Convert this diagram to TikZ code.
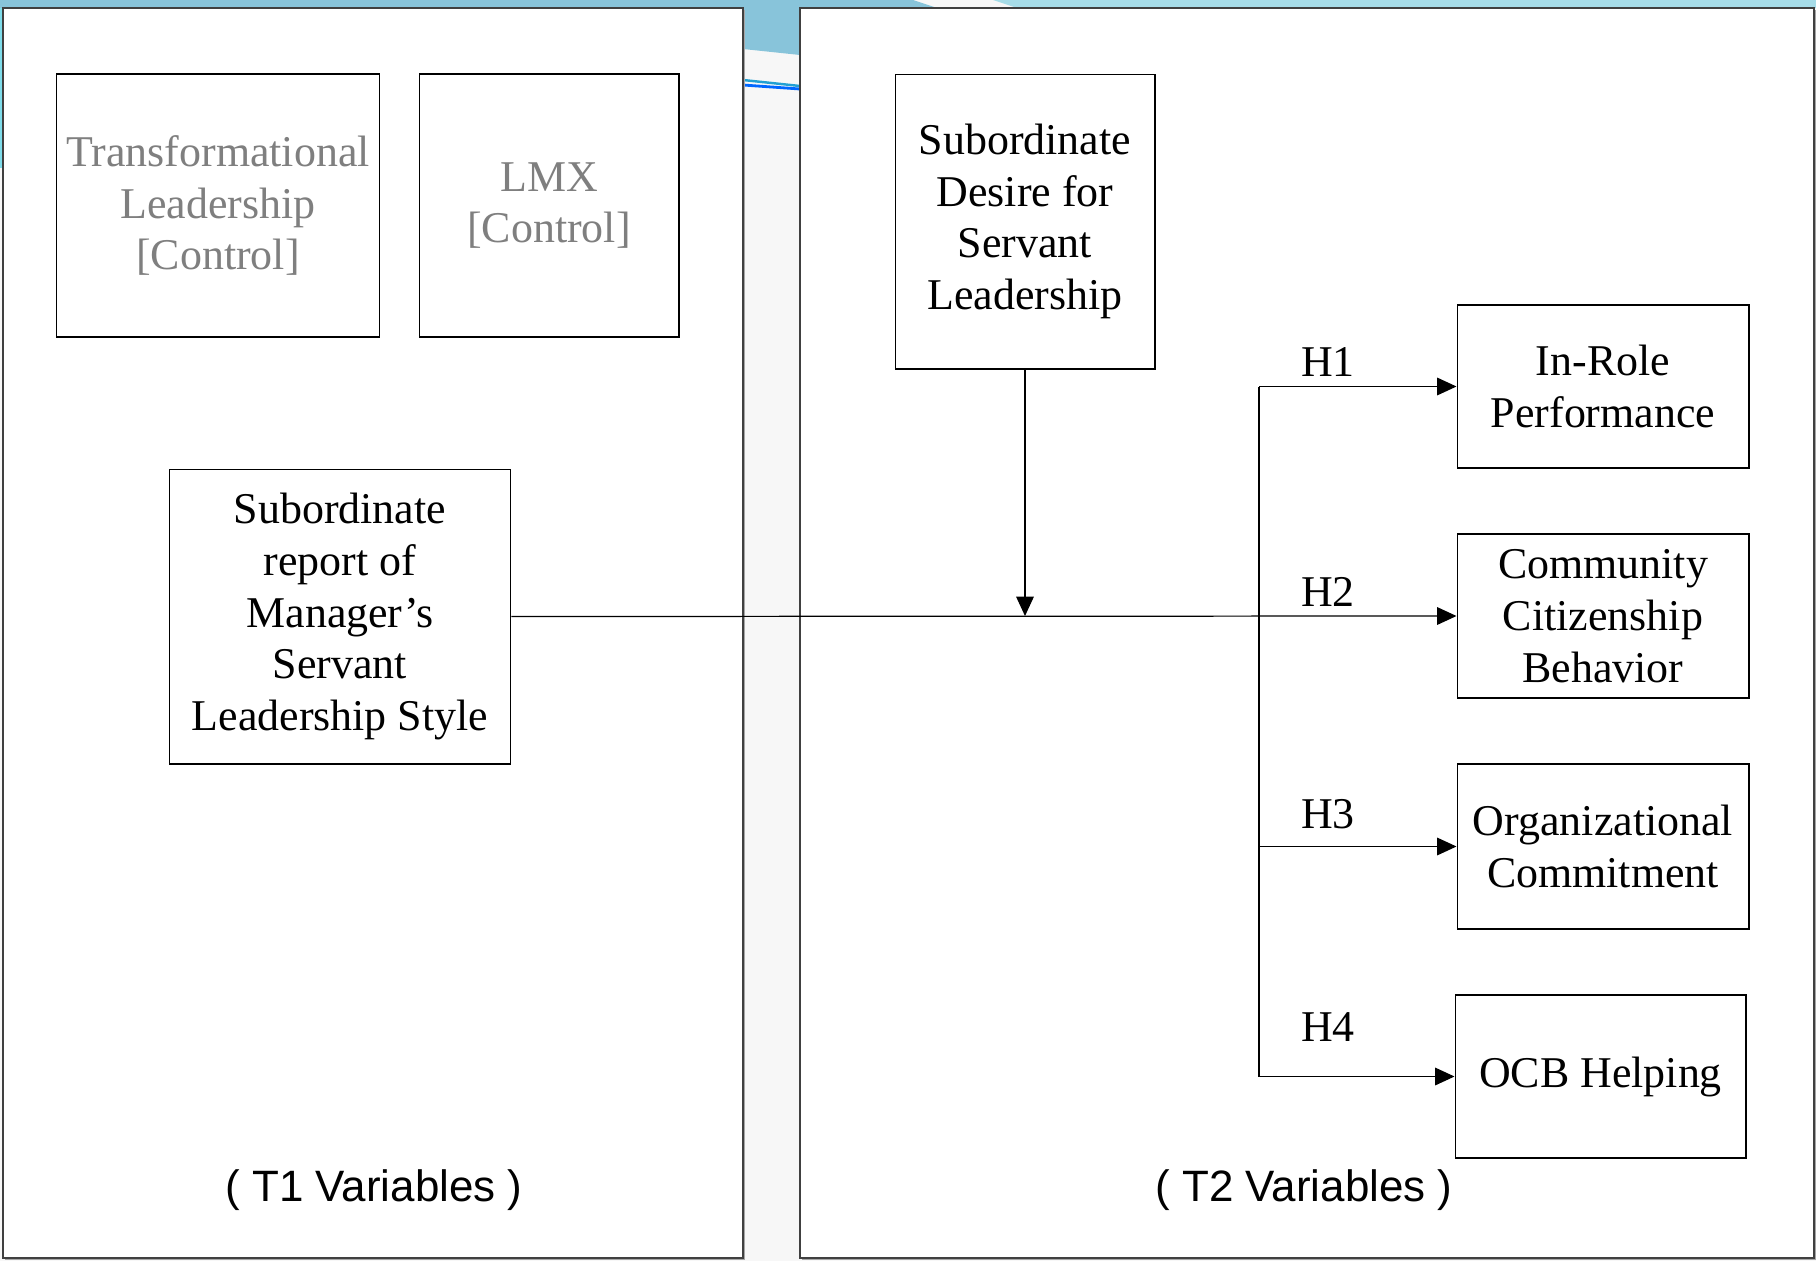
\documentclass[tikz,border=0pt]{standalone}
\usepackage{fontspec}
\setmainfont{Liberation Serif}
\newfontfamily\labelfont{Liberation Sans}
\usetikzlibrary{arrows.meta}

\definecolor{bggray}{HTML}{F7F7F7}
\definecolor{topblue}{HTML}{88C4DA}
\definecolor{paleblue}{HTML}{A6DCE8}
\definecolor{edgecyan}{HTML}{7FDCEA}
\definecolor{ctrlgray}{HTML}{7F7F7F}
\definecolor{framegray}{HTML}{404040}

\tikzset{
  varbox/.style={draw=black, line width=0.6pt, fill=white, align=center, inner sep=0pt,
    font=\fontsize{25}{29.5}\selectfont},
  ctrlbox/.style={varbox, text=ctrlgray},
  panel/.style={draw=framegray, line width=0.9pt, fill=white},
  link/.style={line width=0.7pt, -{Triangle[length=11pt,width=10pt]}},
  hyp/.style={font=\fontsize{25}{29}\selectfont},
  timelabel/.style={font=\labelfont\fontsize{25}{29}\selectfont},
}

\begin{document}
\begin{tikzpicture}[x=0.02cm, y=-0.02cm]
    \useasboundingbox (0,0) rectangle (1816,1261);
    % background
    \fill[bggray] (0,0) rectangle (1816,1261);
    \fill[topblue] (0,0) -- (913,0) -- (937,8) -- (0,8) -- cycle;
    \fill[paleblue] (993,0) -- (1816,0) -- (1816,8) -- (1017,8) -- cycle;
    \fill[topblue] (743,0) -- (800,0) -- (800,55) -- (743,49) -- cycle;
    \fill[edgecyan] (0,8) rectangle (4,168);
    \draw[line width=1.4pt, color=cyan!70!teal] (743,80) -- (800,86);
    \draw[line width=1.6pt, color=blue!60!cyan] (743,85) -- (800,89);

    % panels T1 / T2
    \fill[gray!70] (5,10) rectangle (745,1260);
    \fill[gray!70] (802,10) rectangle (1816,1260);
    \draw[panel] (3,8) rectangle (743,1258);
    \draw[panel] (800,8) rectangle (1814,1258);

    % T1 variables
    \node[ctrlbox, minimum width=6.48cm, minimum height=5.26cm] (transf) at (218,205.5)
        {Transformational\\Leadership\\ {[Control]}};
    \node[ctrlbox, minimum width=5.2cm, minimum height=5.26cm] (lmx) at (549,205.5)
        {LMX\\ {[Control]}};
    \node[varbox, minimum width=6.84cm, minimum height=5.9cm] (report) at (340,616.5)
        {Subordinate\\report of\\Manager’s\\Servant\\Leadership Style};

    % T2 variables
    \node[varbox, minimum width=5.2cm, minimum height=5.9cm] (desire) at (1025,221.5)
        {Subordinate\\Desire for\\Servant\\Leadership};
    \node[varbox, minimum width=5.84cm, minimum height=3.26cm] (inrole) at (1603,386.5)
        {In-Role\\Performance};
    \node[varbox, minimum width=5.84cm, minimum height=3.28cm] (community) at (1603,616)
        {Community\\Citizenship\\Behavior};
    \node[varbox, minimum width=5.84cm, minimum height=3.3cm] (orgcom) at (1603,846.5)
        {Organizational\\Commitment};
    \node[varbox, minimum width=5.82cm, minimum height=3.26cm] (ocb) at (1600.5,1076.5)
        {OCB Helping};

    % paths
    \coordinate (mod) at (desire.south |- community.west);
    \coordinate (fork) at (1259,616);
    \draw[link] (report.east) -- (community.west);
    \draw[link] (desire.south) -- (mod);
    \draw[line width=0.7pt] (fork |- inrole.west) -- (fork |- ocb.west);
    \draw[link] (fork |- inrole.west) -- (inrole.west);
    \draw[link] (fork |- orgcom.west) -- (orgcom.west);
    \draw[link] (fork |- ocb.west) -- (ocb.west);

    % hypotheses
    \node[hyp] (h1) at (1328,362) {H1};
    \node[hyp] (h2) at (1328,592) {H2};
    \node[hyp] (h3) at (1328,814) {H3};
    \node[hyp] (h4) at (1328,1027) {H4};

    \node[timelabel] (t1) at (374,1190) {( T1 Variables )};
    \node[timelabel] (t2) at (1304,1190) {( T2 Variables )};
\end{tikzpicture}
\end{document}
